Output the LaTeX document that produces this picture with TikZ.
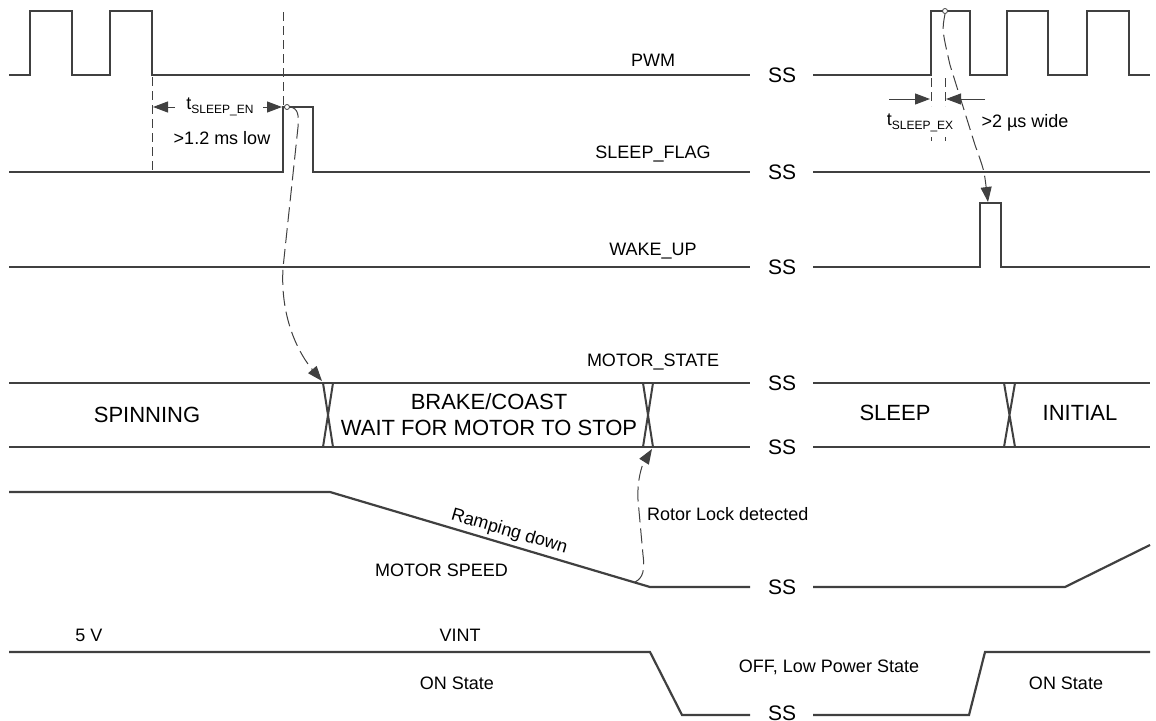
\documentclass[tikz,border=0pt]{standalone}
\usepackage{fontspec}
\setmainfont{Liberation Sans}
\usetikzlibrary{arrows.meta}
\definecolor{ink}{HTML}{404040}
\newcommand{\lowsub}[1]{\raisebox{-3.5pt}{\fontsize{12}{12}\selectfont #1}}
\begin{document}
\begin{tikzpicture}[x=1pt,y=-1pt,
  sig/.style={draw=ink, line width=2.2pt, line join=miter},
  lbl/.style={font=\fontsize{18}{20}\selectfont, text=black, inner sep=0pt},
  stl/.style={font=\fontsize{22}{26}\selectfont, text=black, inner sep=0pt, align=center},
  ssl/.style={font=\fontsize{21}{22}\selectfont, text=black, inner sep=0pt},
  dsh/.style={draw=ink, line width=1pt, dash pattern=on 9pt off 5pt},
  cdsh/.style={draw=ink, line width=1pt, dash pattern=on 15pt off 6pt},
  dimline/.style={draw=ink, line width=1pt},
  tri/.style={-{Triangle[length=15pt,width=11pt]}},
  dot/.style={circle, draw=ink, fill=white, inner sep=0pt, minimum size=5pt, line width=0.8pt}]
\useasboundingbox (0,0) rectangle (1156,720);

% PWM
\draw[sig] (9,75) -- (30,75) -- (30,11) -- (72,11) -- (72,75) -- (110,75) -- (110,11) -- (152,11) -- (152,75) -- (750,75);
\draw[sig] (813,75) -- (931,75) -- (931,11) -- (970,11) -- (970,75) -- (1007,75) -- (1007,11) -- (1048,11) -- (1048,75) -- (1087,75) -- (1087,11) -- (1129,11) -- (1129,75) -- (1150,75);
\node[lbl] (lpwm) at (653,60) {PWM};
\node[ssl] (ss1) at (782,75) {SS};

% SLEEP_FLAG
\draw[sig] (9,172) -- (283,172) -- (283,107) -- (313,107) -- (313,172) -- (750,172);
\draw[sig] (813,172) -- (1150,172);
\node[lbl] (lsf) at (653,154) {SLEEP\_FLAG};
\node[ssl] (ss2) at (782,172) {SS};

% WAKE_UP
\draw[sig] (9,267) -- (750,267);
\draw[sig] (813,267) -- (980,267) -- (980,203) -- (1001,203) -- (1001,267) -- (1150,267);
\node[lbl] (lwu) at (653,251) {WAKE\_UP};
\node[ssl] (ss3) at (782,267) {SS};

% MOTOR_STATE
\draw[sig] (9,383) -- (750,383) (813,383) -- (1150,383);
\draw[sig] (9,447) -- (750,447) (813,447) -- (1150,447);
\draw[sig, line width=2pt] (323,383) -- (333,447) (333,383) -- (323,447);
\draw[sig, line width=2pt] (643,383) -- (653,447) (653,383) -- (643,447);
\draw[sig, line width=2pt] (1004,383) -- (1015,447) (1015,383) -- (1004,447);
\node[lbl] (lms) at (653,362) {MOTOR\_STATE};
\node[ssl] (ss4) at (782,383) {SS};
\node[ssl] (ss5) at (782,447) {SS};
\node[stl] (spin) at (147,415) {SPINNING};
\node[stl] (brake) at (489,415) {BRAKE/COAST\\WAIT FOR MOTOR TO STOP};
\node[stl] (sleep) at (895,413) {SLEEP};
\node[stl] (init) at (1080,413) {INITIAL};

% MOTOR SPEED
\draw[sig] (9,492) -- (330,492) -- (650,587) -- (750,587);
\draw[sig] (813,587) -- (1065,587) -- (1150,545);
\node[ssl] (ss6) at (782,587) {SS};
\node[lbl, anchor=west] (lspd) at (375,570) {MOTOR SPEED};
\node[lbl, rotate=-16.4, anchor=south, inner sep=3pt] (ramp) at (506,543) {Ramping down};
\node[lbl, anchor=west] (rotor) at (647,514) {Rotor Lock detected};

% VINT
\draw[sig] (9,652) -- (650,652) -- (682,715) -- (750,715);
\draw[sig] (813,715) -- (969,715) -- (985,652) -- (1150,652);
\node[ssl] (ss7) at (782,713) {SS};
\node[lbl] (l5v) at (89,635) {5 V};
\node[lbl] (lvint) at (460,635) {VINT};
\node[lbl] (on1) at (457,683) {ON State};
\node[lbl] (off) at (829,667) {OFF, Low Power State};
\node[lbl] (on2) at (1066,683) {ON State};

% t_SLEEP_EN
\draw[dsh] (152,77) -- (152,172);
\draw[dsh] (283,12) -- (283,107);
\coordinate (enl) at (153,107);
\coordinate (enr) at (282,107);
\node[lbl] (ten) at (220,107) {t\lowsub{SLEEP\_EN}};
\draw[dimline, tri] (175,107) -- (enl);
\draw[dimline, tri] (263,107) -- (enr);
\node[lbl] (lowt) at (222,138) {>1.2 ms low};
\node[dot] (c1) at (287,107) {};
\coordinate (x1) at (322,381);
\draw[cdsh, tri] (c1.east) .. controls (298,108) and (299,115) .. (298,127) -- (283,268) .. controls (280,320) and (300,355) .. (x1);

% t_SLEEP_EX
\draw[dsh] (931,78) -- (931,106);
\draw[dsh] (945,78) -- (945,106);
\draw[ink, line width=0.8pt] (931,137) -- (931,141) (945,137) -- (945,141);
\coordinate (exl) at (930,99);
\coordinate (exr) at (946,99);
\draw[dimline, tri] (889,99) -- (exl);
\draw[dimline, tri] (985,99) -- (exr);
\node[lbl] (tex) at (920,123) {t\lowsub{SLEEP\_EX}};
\node[lbl] (wide) at (1025,123) {>2 µs wide};
\node[dot] (c2) at (945,11) {};
\coordinate (wk) at (988,202);
\draw[cdsh, tri] (c2.south) .. controls (942,30) .. (950,65) -- (975,145) .. controls (984,170) .. (wk);

% Rotor lock arrow
\coordinate (rl) at (635,582);
\coordinate (x2) at (652,449);
\draw[cdsh, tri] (rl) .. controls (643,578) and (645,570) .. (643,555) -- (638,500) .. controls (637,480) and (642,465) .. (x2);
\end{tikzpicture}
\end{document}
